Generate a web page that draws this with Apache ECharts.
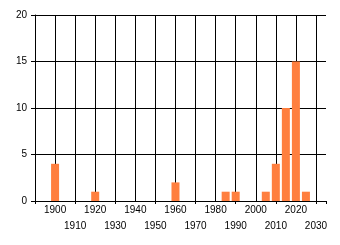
<!DOCTYPE html>
<html><head><meta charset="utf-8">
<script src="https://cdn.jsdelivr.net/npm/echarts@6/dist/echarts.min.js"></script>
<style>html,body{margin:0;padding:0;background:#fff}#c{width:340px;height:245px}</style>
</head><body><div id="c"></div>
<script>
const years = [1900, 1920, 1960, 1985, 1990, 2005, 2010, 2015, 2020, 2025];
const counts = [4, 1, 2, 1, 1, 1, 4, 10, 15, 1];
const xTickLabels = [1900,1910,1920,1930,1940,1950,1960,1970,1980,1990,2000,2010,2020,2030];
const yTickLabels = [0, 5, 10, 15, 20];

const chart = echarts.init(document.getElementById('c'), null, {renderer:'canvas'});
chart.setOption({
  animation: false,
  grid: {left: 35, right: 14, top: 15, bottom: 44, containLabel: false},
  xAxis: [{
    type: 'value', min: 1890, max: 2035, interval: 10,
    axisLine: {show: true, onZero: false, lineStyle: {color: '#000', width: 1}},
    axisTick: {show: false},
    splitLine: {show: true, showMinLine: false, showMaxLine: false, lineStyle: {color: '#000', width: 1}},
    axisLabel: {
      margin: 1, fontSize: 10, lineHeight: 16, color: '#000', fontFamily: 'Liberation Sans',
      showMinLabel: true, showMaxLabel: true, hideOverlap: false,
      formatter: function (v) {
        if (xTickLabels.indexOf(v) < 0) return '';
        return ((v / 10) % 2 === 0) ? String(v) : '\n' + v;
      }
    }
  }, {
    type: 'value', position: 'bottom', min: 1890, max: 2035, interval: 20,
    axisLine: {show: false},
    axisTick: {show: true, length: 3, lineStyle: {color: '#000'}},
    splitLine: {show: false},
    axisLabel: {show: false}
  }],
  yAxis: {
    type: 'value', min: 0, max: 20, interval: 5,
    axisLine: {show: true, lineStyle: {color: '#000', width: 1}},
    axisTick: {show: true, length: 4, lineStyle: {color: '#000'}},
    splitLine: {show: true, lineStyle: {color: '#000', width: 1}},
    axisLabel: {
      margin: 8, fontSize: 10, color: '#000', fontFamily: 'Liberation Sans',
      formatter: function (v) { return yTickLabels.indexOf(v) >= 0 ? String(v) : ''; }
    }
  },
  series: [{
    type: 'bar', barWidth: 8, xAxisIndex: 0,
    itemStyle: {color: '#FF7F3F'},
    data: years.map((y, i) => [y, counts[i]])
  }]
});
</script></body></html>
